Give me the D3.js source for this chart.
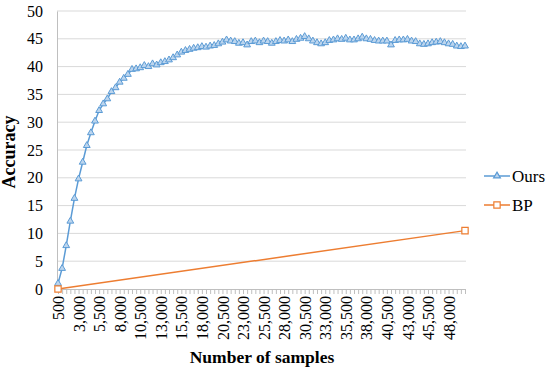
<!DOCTYPE html>
<html>
<head>
<meta charset="utf-8">
<script src="https://cdn.jsdelivr.net/npm/d3@7"></script>
<style>
  body { margin: 0; background: #fff; }
  svg text { font-family: "Liberation Serif", "Times New Roman", serif; fill: #000; }
</style>
</head>
<body>
<svg id="chart"></svg>
<script>
const WIDTH = 550;
const HEIGHT = 372;

// Number of samples: 500 .. 50,000 step 500
const samples = d3.range(1, 101).map(i => i * 500);

// Accuracy of "Ours"
const ours = [
    1.0, 3.7, 7.8, 12.2, 16.3, 19.8, 22.8, 25.8, 28.1, 30.2,
    32.1, 33.3, 34.2, 35.5, 36.2, 37.2, 37.9, 38.6, 39.5, 39.6,
    39.8, 40.2, 40.0, 40.5, 40.3, 40.7, 40.9, 41.2, 41.6, 42.1,
    42.6, 42.9, 43.1, 43.3, 43.4, 43.6, 43.5, 43.7, 43.8, 44.1,
    44.4, 44.8, 44.6, 44.5, 44.2, 44.3, 43.9, 44.5, 44.6, 44.3,
    44.6, 44.5, 44.2, 44.5, 44.7, 44.6, 44.8, 44.5, 44.9, 45.1,
    45.4, 45.0, 44.6, 44.3, 44.1, 44.3, 44.7, 44.8, 45.0, 44.9,
    45.1, 44.8, 44.8, 45.0, 45.3, 45.0, 44.9, 44.7, 44.6, 44.6,
    44.6, 43.9, 44.7, 44.8, 44.8, 44.9, 44.6, 44.5, 44.1, 44.0,
    44.1, 44.3, 44.4, 44.5, 44.3, 44.1, 44.0, 43.7, 43.6, 43.7
];

// BP only has a value at the first and last sample counts
const bpSamples = [500, 50000];
const bpValues = [0, 10.5];

const yTicks = d3.range(0, 51, 5);
const labelEvery = 5;

const seriesNames = ['Ours', 'BP'];
const seriesColors = ['#5B9BD5', '#ED7D31'];

function makeChart() {
    let svg = d3.select('#chart')
        .attr('width', WIDTH)
        .attr('height', HEIGHT);

    let x = d3.scalePoint()
        .domain(samples)
        .range([58, 465]);

    let y = d3.scaleLinear()
        .domain([0, 50])
        .range([289, 11]);

    // gridlines
    svg.append('g')
        .selectAll('line')
        .data(yTicks.filter(d => d > 0))
        .enter().append('line')
        .attr('x1', 57)
        .attr('x2', 466)
        .attr('y1', d => y(d))
        .attr('y2', d => y(d))
        .attr('stroke', '#d9d9d9')
        .attr('stroke-width', 1);

    // y axis
    let yAxis = d3.axisLeft(y)
        .tickValues(yTicks)
        .tickSize(0)
        .tickPadding(14);
    let yg = svg.append('g')
        .attr('transform', 'translate(57,0)')
        .call(yAxis);
    yg.attr('font-family', null);
    yg.select('.domain').attr('stroke', '#bfbfbf');
    yg.selectAll('text')
        .style('font-size', '16px')
        .style('font-family', '"Liberation Serif", serif');

    // x axis
    let xAxis = d3.axisBottom(x)
        .tickSize(5)
        .tickSizeOuter(0)
        .tickFormat((d, i) => i % labelEvery === 0 ? d3.format(',')(d) : '');
    let xg = svg.append('g')
        .attr('transform', 'translate(0,289)')
        .call(xAxis);
    xg.attr('font-family', null);
    xg.select('.domain')
        .attr('stroke', '#bfbfbf')
        .attr('d', 'M57,0.5H466');
    xg.selectAll('.tick line').attr('stroke', '#bfbfbf');
    xg.selectAll('text')
        .style('font-size', '16px')
        .style('font-family', '"Liberation Serif", serif')
        .attr('text-anchor', 'end')
        .attr('transform', 'rotate(-90)')
        .attr('x', -7)
        .attr('y', 0)
        .attr('dy', '0.35em');

    // BP line
    let line = d3.line()
        .x(d => x(d[0]))
        .y(d => y(d[1]));

    let bpData = bpSamples.map((s, i) => [s, bpValues[i]]);
    svg.append('path')
        .datum(bpData)
        .attr('fill', 'none')
        .attr('stroke', seriesColors[1])
        .attr('stroke-width', 1.5)
        .attr('d', line);

    // Ours line
    let oursData = samples.map((s, i) => [s, ours[i]]);
    svg.append('path')
        .datum(oursData)
        .attr('fill', 'none')
        .attr('stroke', seriesColors[0])
        .attr('stroke-width', 1.5)
        .attr('d', line);

    let tri = d3.symbol().type(d3.symbolTriangle).size(20);
    let sq = d3.symbol().type(d3.symbolSquare).size(40);

    svg.append('g')
        .selectAll('path')
        .data(oursData)
        .enter().append('path')
        .attr('d', tri)
        .attr('transform', d => `translate(${x(d[0])},${y(d[1])})`)
        .attr('fill', '#bcd5ee')
        .attr('stroke', seriesColors[0])
        .attr('stroke-width', 1);

    svg.append('g')
        .selectAll('path')
        .data(bpData)
        .enter().append('path')
        .attr('d', sq)
        .attr('transform', d => `translate(${x(d[0])},${y(d[1])})`)
        .attr('fill', '#fff')
        .attr('stroke', seriesColors[1])
        .attr('stroke-width', 1.2);

    // legend
    let legend = svg.append('g')
        .selectAll('g')
        .data(seriesNames)
        .enter().append('g')
        .attr('transform', (d, i) => `translate(484,${176 + i * 29})`);

    legend.append('line')
        .attr('x1', 0)
        .attr('x2', 26)
        .attr('stroke', (d, i) => seriesColors[i])
        .attr('stroke-width', 1.5);
    legend.append('path')
        .attr('d', (d, i) => i === 0 ? tri() : sq())
        .attr('transform', 'translate(13,0)')
        .attr('fill', (d, i) => i === 0 ? '#bcd5ee' : '#fff')
        .attr('stroke', (d, i) => seriesColors[i])
        .attr('stroke-width', 1.2);
    legend.append('text')
        .attr('x', 28)
        .attr('dy', '0.35em')
        .style('font-size', '17px')
        .text(d => d);

    // axis titles
    svg.append('text')
        .attr('x', 262)
        .attr('y', 363)
        .attr('text-anchor', 'middle')
        .style('font-size', '17.5px')
        .style('font-weight', 'bold')
        .text('Number of samples');

    svg.append('text')
        .attr('transform', 'translate(15,152) rotate(-90)')
        .attr('text-anchor', 'middle')
        .style('font-size', '18px')
        .style('font-weight', 'bold')
        .text('Accuracy');
}

makeChart();
</script>
</body>
</html>
